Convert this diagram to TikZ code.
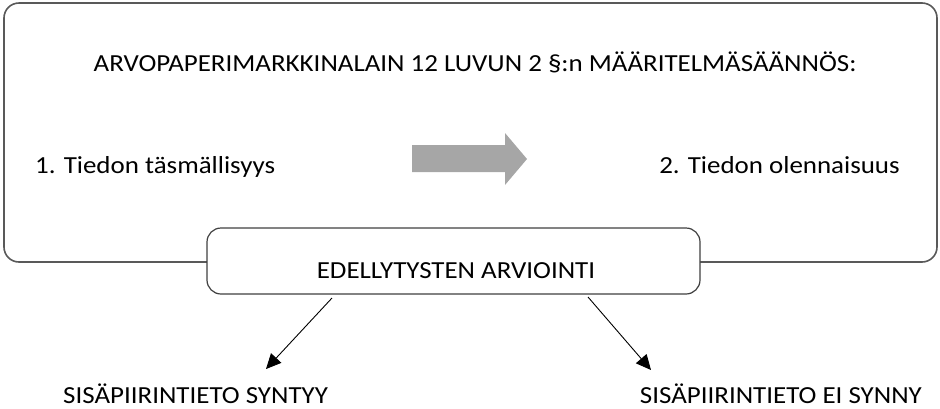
\documentclass[tikz,border=0pt]{standalone}
\usepackage{fontspec}
\setmainfont{Carlito}[FakeStretch=1.1]
\usetikzlibrary{arrows.meta}
\begin{document}
\begin{tikzpicture}[x=1pt,y=-1pt,
  frame/.style={draw=black!65,line width=1.6pt,rounded corners=15pt},
  subframe/.style={draw=black!75,line width=1.2pt,fill=white,rounded corners=14pt},
  lbl/.style={inner sep=0pt,font=\fontsize{24.5}{29}\selectfont},
  blockarrow/.style={fill=black!35,draw=none},
  pointer/.style={draw=black,line width=0.9pt,-{Triangle[length=15pt,width=14pt]}}]
\useasboundingbox (0,0) rectangle (940,408);
% outer frame
\draw[frame] (4,3) rectangle (937,262);
% inner box over the lower edge
\draw[subframe] (207,228) rectangle (700,294);
% texts
\node[lbl,anchor=base] (title) at (475,71) {ARVOPAPERIMARKKINALAIN 12 LUVUN 2 §:n MÄÄRITELMÄSÄÄNNÖS:};
\node[lbl,anchor=base west] (acc) at (35,173) {1. Tiedon täsmällisyys};
\node[lbl,anchor=base east] (mat) at (900,173) {2. Tiedon olennaisuus};
\node[lbl,anchor=base] (eval) at (456,278) {EDELLYTYSTEN ARVIOINTI};
\node[lbl,anchor=base west] (yes) at (63,403) {SISÄPIIRINTIETO SYNTYY};
\node[lbl,anchor=base east] (no) at (922,403) {SISÄPIIRINTIETO EI SYNNY};
% grey block arrow between the two conditions
\fill[blockarrow] (412,145) -- (505,145) -- (505,133) -- (527,159) -- (505,185) -- (505,172) -- (412,172) -- cycle;
% outcome arrows
\coordinate (ls) at (332,298);
\coordinate (le) at (266,369);
\coordinate (rs) at (588,297);
\coordinate (re) at (651,370);
\draw[pointer] (ls) -- (le);
\draw[pointer] (rs) -- (re);
\end{tikzpicture}
\end{document}
